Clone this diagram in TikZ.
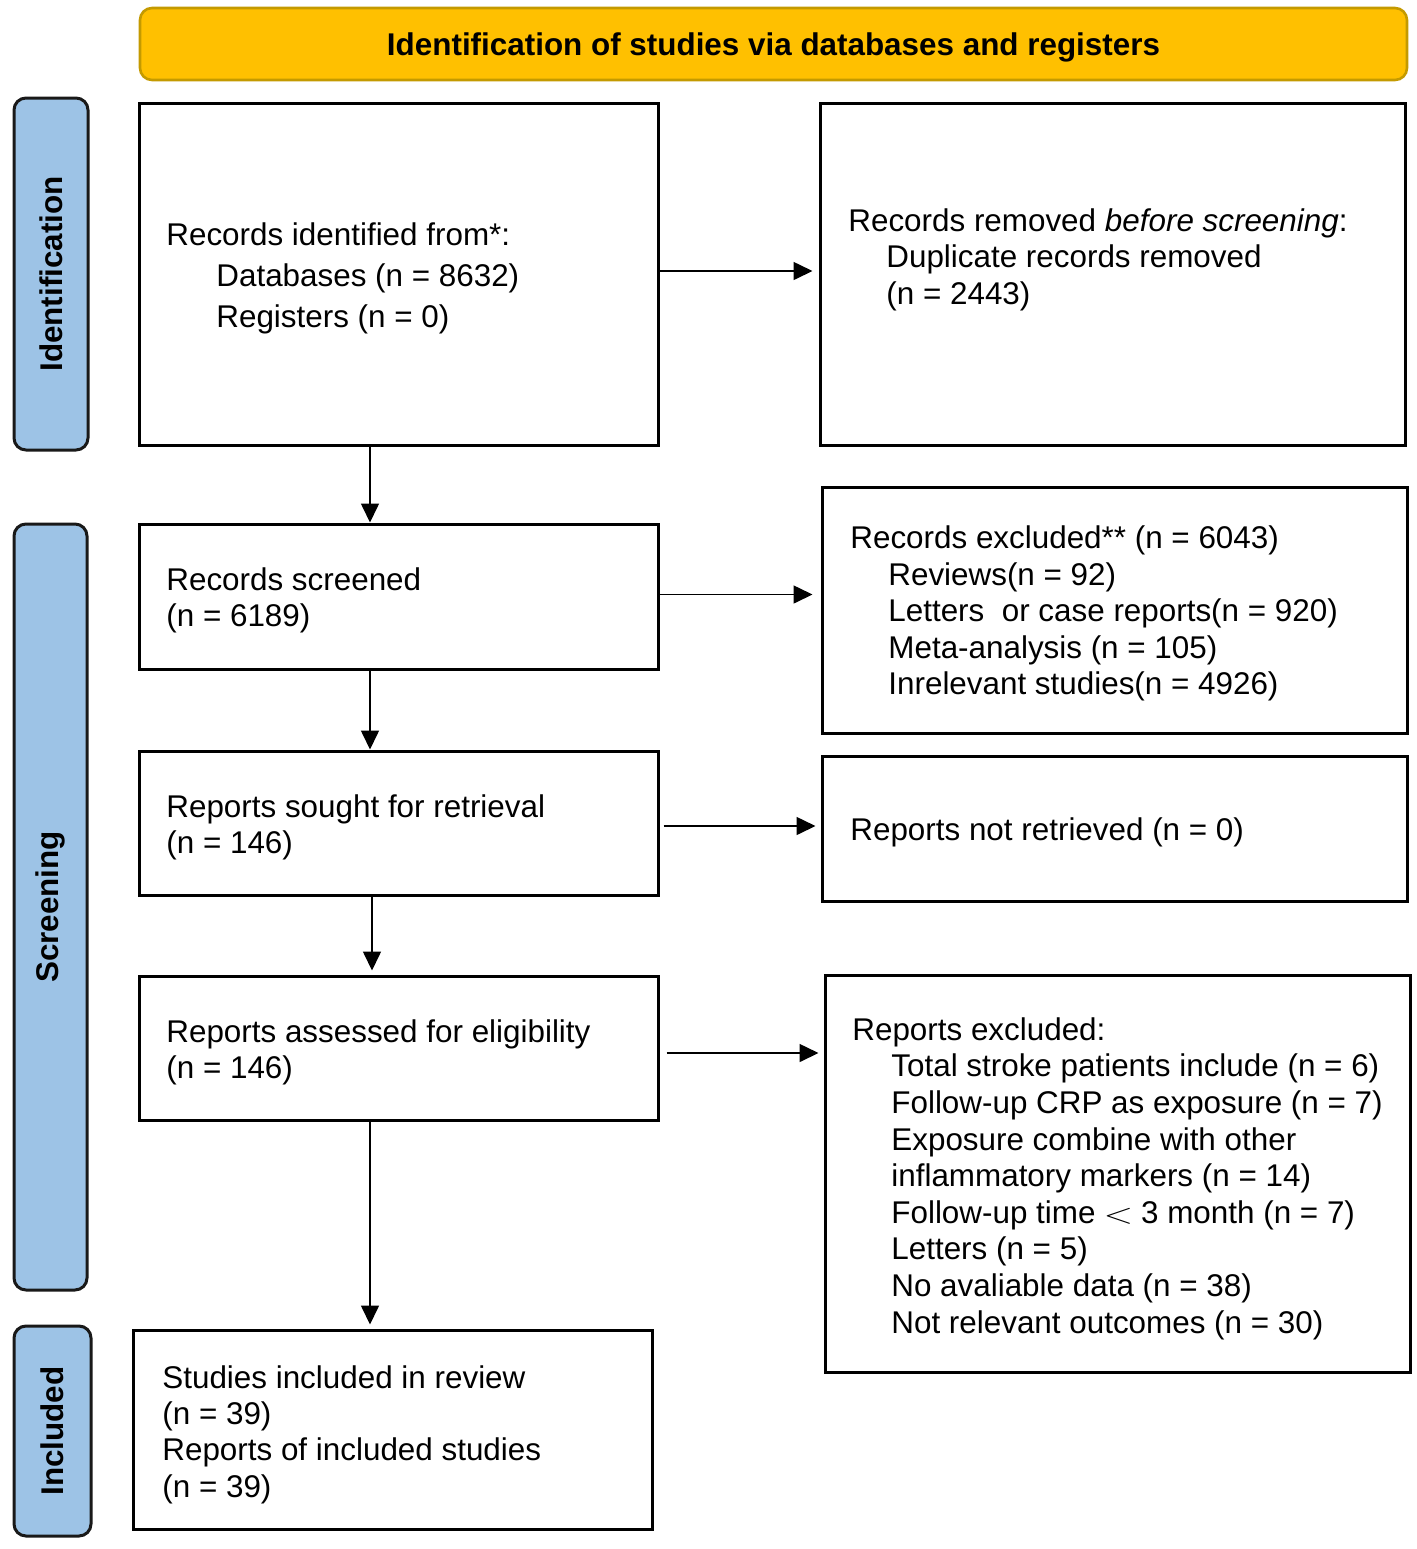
\documentclass[tikz,border=0pt]{standalone}
\usepackage{fontspec}
\setmainfont{Liberation Sans}
\usetikzlibrary{arrows.meta}
\definecolor{hdrfill}{HTML}{FFC000}
\definecolor{hdrdraw}{HTML}{C49A00}
\definecolor{sidefill}{HTML}{9DC3E6}
\newcommand\bodyfont{\fontsize{15.7}{18.2}\selectfont}
\begin{document}
\begin{tikzpicture}[x=0.5pt,y=-0.5pt,
  box/.style={draw=black, line width=1.5pt, rectangle, inner sep=0pt},
  txt/.style={anchor=west, align=left, inner sep=0pt, font=\bodyfont, yshift=-1.8pt},
  side/.style={draw=black!90, line width=1.5pt, fill=sidefill, rounded corners=6pt, rotate=90, inner sep=0pt, font=\bodyfont\bfseries},
  arr/.style={-{Triangle[length=9.5pt,width=9pt]}, line width=0.8pt}]
\useasboundingbox (0,0) rectangle (1417,1549);
% header
\node[draw=hdrdraw, line width=1.3pt, fill=hdrfill, rounded corners=6pt, minimum width=633.5pt, minimum height=36pt, inner sep=0pt] (hdr) at (773.5,44) {};
\node[font=\bodyfont\bfseries, inner sep=0pt] (hdrt) at (773.5,47) {Identification of studies via databases and registers};
% side bars
\node[side, minimum width=176pt, minimum height=37pt] (sid) at (51,274) {Identification};
\node[side, minimum width=383pt, minimum height=36.5pt] (ssc) at (50.5,907) {Screening};
\node[side, minimum width=105pt, minimum height=38.5pt] (sin) at (52.5,1431) {Included};
% left boxes
\node[box, minimum width=259.5pt, minimum height=171pt] (b1) at (398.5,274) {};
\node[box, minimum width=259.5pt, minimum height=72.5pt] (b2) at (398.5,596.5) {};
\node[box, minimum width=259.5pt, minimum height=72pt] (b3) at (398.5,823) {};
\node[box, minimum width=259.5pt, minimum height=72pt] (b4) at (398.5,1048) {};
\node[box, minimum width=259.5pt, minimum height=99.5pt] (b5) at (392.5,1429.5) {};
% right boxes
\node[box, minimum width=292.5pt, minimum height=171pt] (r1) at (1112.5,274) {};
\node[box, minimum width=292.5pt, minimum height=123pt] (r2) at (1114.5,610) {};
\node[box, minimum width=292.5pt, minimum height=72.5pt] (r3) at (1114.5,828.5) {};
\node[box, minimum width=292.5pt, minimum height=198.5pt] (r4) at (1117.5,1173.5) {};
% texts
\node[txt, font=\fontsize{15.7}{20.5}\selectfont] (t1) at (166,275) {Records identified from*:\\\hspace*{25pt}Databases (n = 8632)\\\hspace*{25pt}Registers (n = 0)};
\node[txt] (t2) at (166,597) {Records screened\\(n = 6189)};
\node[txt] (t3) at (166,824) {Reports sought for retrieval\\(n = 146)};
\node[txt] (t4) at (166,1049) {Reports assessed for eligibility\\(n = 146)};
\node[txt] (t5) at (162,1431) {Studies included in review\\(n = 39)\\Reports of included studies\\(n = 39)};
\node[txt] (tr1) at (848,256) {Records removed \textit{before screening}:\\\hspace*{19pt}Duplicate records removed\\\hspace*{19pt}(n = 2443)};
\node[txt] (tr2) at (850,610) {Records excluded** (n = 6043)\\\hspace*{19pt}Reviews(n = 92)\\\hspace*{19pt}Letters\ \ or case reports(n = 920)\\\hspace*{19pt}Meta-analysis (n = 105)\\\hspace*{19pt}Inrelevant studies(n = 4926)};
\node[txt] (tr3) at (850,829) {Reports not retrieved (n = 0)};
\node[txt, font=\fontsize{15.7}{18.3}\selectfont] (tr4) at (852,1175) {Reports excluded:\\\hspace*{19.5pt}Total stroke patients include (n = 6)\\\hspace*{19.5pt}Follow-up CRP as exposure (n = 7)\\\hspace*{19.5pt}Exposure combine with other\\\hspace*{19.5pt}inflammatory markers (n = 14)\\\hspace*{19.5pt}Follow-up time\hspace{4pt}\scalebox{1.35}[1]{$<$}\hspace{4pt}3 month (n = 7)\\\hspace*{19.5pt}Letters (n = 5)\\\hspace*{19.5pt}No avaliable data (n = 38)\\\hspace*{19.5pt}Not relevant outcomes (n = 30)};
% connectors
\coordinate (cx) at (370,0);
\coordinate (cy) at (372,0);
\draw[arr] (b1.south -| cx) -- (b2.north -| cx);
\draw[arr] (b2.south -| cx) -- (b3.north -| cx);
\draw[arr] (b3.south -| cy) -- ([yshift=2pt]b4.north -| cy);
\draw[arr] (b4.south -| cx) -- ([yshift=2pt]b5.north -| cx);
\draw[arr, shorten >=3pt] ([yshift=1.5pt]b1.east) -- ([yshift=1.5pt]b1.east -| r1.west);
\draw[arr, shorten >=4pt] ([yshift=1pt]b2.east) -- ([yshift=1pt]b2.east -| r2.west);
\draw[arr, shorten <=2pt, shorten >=2.5pt] ([yshift=-1.5pt]b3.east) -- ([yshift=-1.5pt]b3.east -| r3.west);
\draw[arr, shorten <=3.5pt, shorten >=2.5pt] ([yshift=-2.5pt]b4.east) -- ([yshift=-2.5pt]b4.east -| r4.west);
\end{tikzpicture}
\end{document}
